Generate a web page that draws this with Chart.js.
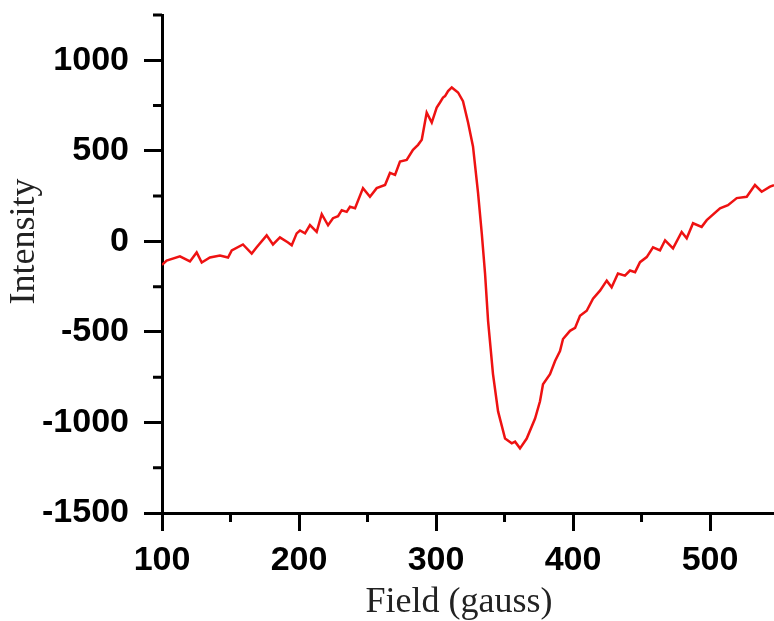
<!DOCTYPE html>
<html>
<head>
<meta charset="utf-8">
<script src="https://cdn.jsdelivr.net/npm/chart.js@4.4.1/dist/chart.umd.min.js"></script>
<style>
    html, body { margin: 0; padding: 0; background: #fff; }
    #wrap { position: relative; width: 774px; height: 621px; }
</style>
</head>
<body>
<div id="wrap"><canvas id="chart"></canvas></div>
<script>
// field values (gauss)
const fieldValues = [
    100.0, 103.4, 113.1, 120.4, 125.3, 129.0, 135.0, 142.3, 148.2, 150.9,
    159.1, 165.5, 169.1, 176.4, 181.0, 186.1, 192.0, 194.7, 198.3, 200.7,
    204.4, 208.0, 212.9, 216.6, 221.2, 224.8, 228.5, 231.2, 234.8, 237.2,
    240.9, 246.7, 251.8, 256.7, 262.8, 266.4, 270.1, 273.7, 278.6, 283.2,
    286.9, 289.6, 293.2, 296.9, 300.5, 302.9, 305.1, 306.6, 308.8, 311.5,
    316.1, 319.7, 323.4, 327.0, 330.7, 333.4, 335.8, 338.0, 341.6, 345.3,
    350.4, 355.3, 357.7, 361.3, 366.2, 372.3, 375.9, 378.1, 383.2, 386.9,
    390.5, 392.7, 397.8, 401.5, 405.1, 410.0, 414.6, 419.7, 424.6, 428.2,
    432.8, 437.9, 441.6, 445.3, 448.9, 453.8, 458.4, 463.5, 467.2, 473.0,
    479.3, 483.0, 487.6, 493.9, 497.6, 507.3, 513.1, 519.5, 526.8, 532.8,
    537.7, 543.8, 546.7
];

const intensityValues = [
    -130, -106, -83, -111, -61, -117, -89, -78, -89, -50,
    -17, -67, -33, 33, -17, 22, -6, -22, 44, 60,
    44, 90, 52, 150, 89, 128, 139, 172, 163, 191,
    183, 294, 246, 294, 311, 378, 367, 441, 450, 506,
    533, 561, 711, 656, 739, 767, 794, 802, 830, 850,
    822, 774, 656, 524, 267, 44, -178, -439, -733, -939,
    -1089, -1115, -1106, -1143, -1089, -978, -883, -789, -733, -661,
    -606, -539, -494, -478, -411, -383, -317, -272, -217, -254,
    -178, -189, -161, -170, -115, -87, -33, -50, 6, -39,
    52, 17, 100, 80, 117, 183, 200, 239, 246, 311,
    274, 302, 311
];

const xTicks = [100, 200, 300, 400, 500];
const xMinorTicks = [150, 250, 350, 450];
const yTicks = [-1500, -1000, -500, 0, 500, 1000];
const yMinorTicks = [-1250, -750, -250, 250, 750, 1250];

const points = fieldValues.map((f, i) => ({ x: f, y: intensityValues[i] }));

// short ticks between the labelled ones
const minorTicks = {
    id: "minorTicks",
    afterDraw(chart) {
        const ctx = chart.ctx;
        const xs = chart.scales.x;
        const ys = chart.scales.y;
        ctx.save();
        ctx.strokeStyle = "#000";
        ctx.lineWidth = 3;
        ctx.beginPath();
        xMinorTicks.forEach((v) => {
            const px = xs.getPixelForValue(v);
            ctx.moveTo(px, xs.top);
            ctx.lineTo(px, xs.top + 9);
        });
        yMinorTicks.forEach((v) => {
            const py = ys.getPixelForValue(v);
            ctx.moveTo(ys.right, py);
            ctx.lineTo(ys.right - 9, py);
        });
        ctx.stroke();
        ctx.restore();
    }
};

const tickFont = { family: "'Liberation Sans', Arial, sans-serif", size: 34, weight: "bold" };
const titleFont = { family: "'Liberation Serif', 'Times New Roman', serif", size: 36, lineHeight: 1 };

new Chart(document.getElementById("chart"), {
    type: "scatter",
    data: {
        datasets: [{
            data: points,
            showLine: true,
            borderColor: "#ee1212",
            borderWidth: 2.5,
            pointRadius: 0,
            tension: 0,
        }]
    },
    options: {
        responsive: true,
        maintainAspectRatio: false,
        animation: false,
        layout: { padding: { top: 15, left: 0, right: 0, bottom: 0 } },
        plugins: {
            legend: { display: false },
            tooltip: { enabled: false },
        },
        scales: {
            x: {
                type: "linear",
                min: 100,
                max: 546.7,
                afterBuildTicks: (scale) => {
                    scale.ticks = xTicks.map((v) => ({ value: v }));
                },
                afterFit: (scale) => {
                    scale.height = 108;
                    scale.paddingLeft = 0;
                    scale.paddingRight = 0;
                },
                ticks: {
                    color: "#000",
                    font: tickFont,
                    padding: 9,
                    maxRotation: 0,
                    callback: (v) => String(v),
                },
                grid: {
                    drawOnChartArea: false,
                    drawTicks: true,
                    lineWidth: 3,
                    tickLength: 18,
                    tickWidth: 3,
                    tickColor: "#000",
                },
                border: { display: true, color: "#000", width: 3 },
                title: {
                    display: true,
                    text: "Field (gauss)  ",
                    color: "#222",
                    font: titleFont,
                    padding: { top: 0, bottom: 0 },
                },
            },
            y: {
                type: "linear",
                min: -1500,
                max: 1250,
                afterBuildTicks: (scale) => {
                    scale.ticks = yTicks.map((v) => ({ value: v }));
                },
                afterFit: (scale) => {
                    scale.width = 162;
                    scale.paddingTop = 0;
                    scale.paddingBottom = 0;
                },
                ticks: {
                    color: "#000",
                    font: tickFont,
                    padding: 15,
                    callback: (v) => String(v),
                },
                grid: {
                    drawOnChartArea: false,
                    drawTicks: true,
                    lineWidth: 3,
                    tickLength: 18,
                    tickWidth: 3,
                    tickColor: "#000",
                },
                border: { display: true, color: "#000", width: 3 },
                title: {
                    display: true,
                    text: "     Intensity",
                    color: "#222",
                    font: titleFont,
                    padding: { top: 7, bottom: 0 },
                },
            },
        },
    },
    plugins: [minorTicks],
});
</script>
</body>
</html>
